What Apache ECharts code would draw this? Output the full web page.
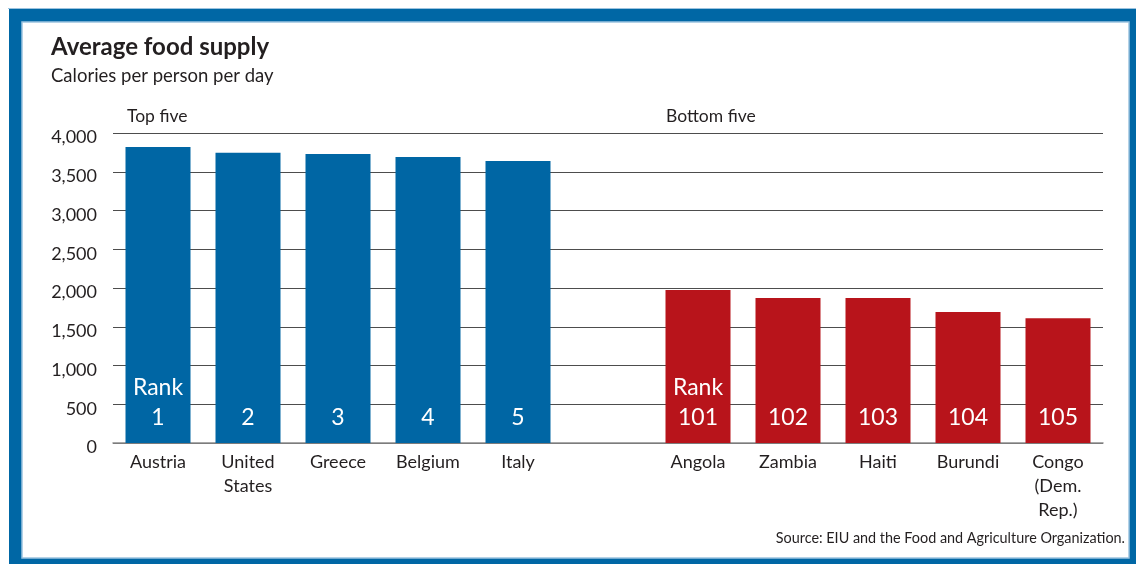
<!DOCTYPE html>
<html>
<head>
<meta charset="utf-8">
<script src="https://cdn.jsdelivr.net/npm/echarts@6/dist/echarts.min.js"></script>
<style>
html,body{margin:0;padding:0;background:#fff;}
#chart{width:1136px;height:564px;}
</style>
</head>
<body>
<div id="chart"></div>
<script>
var topCountries = ['Austria', 'United\nStates', 'Greece', 'Belgium', 'Italy'];
var topValues = [3820, 3745, 3730, 3690, 3640];
var topRanks = ['Rank\n1', '2', '3', '4', '5'];
var bottomCountries = ['Angola', 'Zambia', 'Haiti', 'Burundi', 'Congo\n(Dem.\nRep.)'];
var bottomValues = [1975, 1870, 1870, 1690, 1610];
var bottomRanks = ['Rank\n101', '102', '103', '104', '105'];
var yTicks = [0, 500, 1000, 1500, 2000, 2500, 3000, 3500, 4000];

var FONT = 'Lato';
var categories = topCountries.concat([' ']).concat(bottomCountries);
var ranks = topRanks.concat(['']).concat(bottomRanks);
var nulls = function(n){ var a = []; for (var i = 0; i < n; i++) a.push(null); return a; };
var topData = topValues.concat(nulls(1 + bottomValues.length));
var bottomData = nulls(topValues.length + 1).concat(bottomValues);

var chart = echarts.init(document.getElementById('chart'), null, {renderer: 'canvas'});
var rankLabel = {
  show: true,
  position: 'insideBottom',
  distance: 10,
  color: '#ffffff',
  fontFamily: FONT,
  fontSize: 23,
  lineHeight: 30,
  formatter: function(p){ return ranks[p.dataIndex]; }
};
chart.setOption({
  animation: false,
  backgroundColor: '#ffffff',
  grid: {left: 113, right: 33, top: 133, bottom: 121, containLabel: false},
  xAxis: {
    type: 'category',
    data: categories,
    axisLine: {lineStyle: {color: '#8c8c8c', width: 1.5}},
    axisTick: {show: false},
    axisLabel: {color: '#231f20', fontFamily: FONT, fontSize: 18, lineHeight: 24, margin: 7, interval: 0}
  },
  yAxis: {
    type: 'value',
    min: yTicks[0],
    max: yTicks[yTicks.length - 1],
    interval: 500,
    axisLine: {show: false},
    axisTick: {show: false},
    axisLabel: {
      color: '#231f20', fontFamily: FONT, fontSize: 18, margin: 16,
      verticalAlign: 'top', lineHeight: 9,
      formatter: function(v){ return v.toLocaleString('en-US'); }
    },
    splitLine: {lineStyle: {color: '#4d4d4d', width: 1}}
  },
  series: [
    {type: 'bar', name: 'Top five', data: topData, barWidth: 65, barGap: '-100%',
     itemStyle: {color: '#0066a4'}, label: rankLabel},
    {type: 'bar', name: 'Bottom five', data: bottomData, barWidth: 65, barGap: '-100%',
     itemStyle: {color: '#b8141b'}, label: rankLabel}
  ],
  graphic: [
    {type: 'rect', z: -10, silent: true, shape: {x: 9, y: 9, width: 1140, height: 560}, style: {fill: '#0067a5'}},
    {type: 'rect', z: -9, silent: true, shape: {x: 8, y: 8, width: 1140, height: 1}, style: {fill: '#9cc3df'}},
    {type: 'rect', z: -8, silent: true, shape: {x: 22, y: 22, width: 1107, height: 536}, style: {fill: '#ffffff', stroke: '#9cc3df', lineWidth: 1.5}},
    {type: 'text', left: 51, top: 35, style: {text: 'Average food supply', font: 'bold 24px ' + FONT, fill: '#231f20'}},
    {type: 'text', left: 51, top: 67, style: {text: 'Calories per person per day', font: '18.5px ' + FONT, fill: '#231f20'}},
    {type: 'text', left: 127, top: 107, style: {text: 'Top five', font: '17.5px ' + FONT, fill: '#231f20'}},
    {type: 'text', left: 666, top: 107, style: {text: 'Bottom five', font: '17.5px ' + FONT, fill: '#231f20'}},
    {type: 'text', right: 11, top: 531, style: {text: 'Source: EIU and the Food and Agriculture Organization.', font: '14.4px ' + FONT, fill: '#231f20'}}
  ]
});
</script>
</body>
</html>
